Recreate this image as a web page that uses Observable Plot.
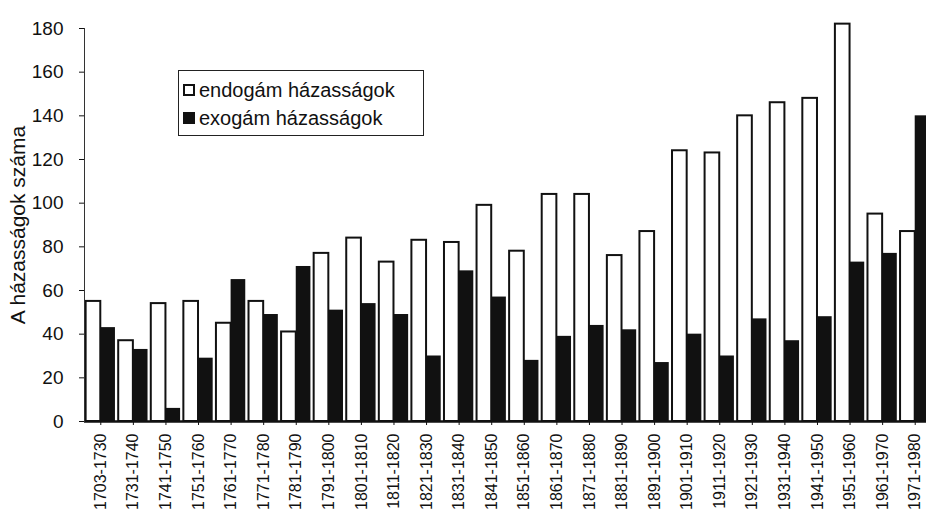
<!DOCTYPE html>
<html><head><meta charset="utf-8">
<script src="https://cdn.jsdelivr.net/npm/d3@7"></script>
<script src="https://cdn.jsdelivr.net/npm/@observablehq/plot@0.6"></script>
<style>
html,body{margin:0;padding:0;background:#fff;overflow:hidden;width:926px;height:517px}
#wrap{position:relative;width:940px;height:517px}
#legend{position:absolute;left:178px;top:70px;width:246px;height:66px;border:1.3px solid #222;background:#fff;font-family:"Liberation Sans",Arial,sans-serif;font-size:20px;color:#111;box-sizing:border-box;padding-top:5px}
.row{display:flex;align-items:center;height:28px;padding-left:4px}
.sw{width:12px;height:12px;margin-right:4px;box-sizing:border-box;border:2px solid #111}
</style></head><body>
<div id="wrap"><div id="chart"></div>
<div id="legend">
<div class="row"><span class="sw" style="background:#fff"></span><span id="l1"></span></div>
<div class="row"><span class="sw" style="background:#111"></span><span id="l2"></span></div>
</div></div>
<script>
const periods = ["1703-1730","1731-1740","1741-1750","1751-1760","1761-1770","1771-1780","1781-1790","1791-1800","1801-1810","1811-1820","1821-1830","1831-1840","1841-1850","1851-1860","1861-1870","1871-1880","1881-1890","1891-1900","1901-1910","1911-1920","1921-1930","1931-1940","1941-1950","1951-1960","1961-1970","1971-1980"];
const endogam = [55,37,54,55,45,55,41,77,84,73,83,82,99,78,104,104,76,87,124,123,140,146,148,182,95,87];
const exogam  = [43,33,6,29,65,49,71,51,54,49,30,69,57,28,39,44,42,27,40,30,47,37,48,73,77,140];
const seriesNames = ["endogám házasságok","exogám házasságok"];
const yTicks = [0,20,40,60,80,100,120,140,160,180];
const yLabel = "A házasságok száma";

document.getElementById("l1").textContent = seriesNames[0];
document.getElementById("l2").textContent = seriesNames[1];

const data = periods.map((p,i)=>({period:p, endo:endogam[i], exo:exogam[i]}));
const W=940, ML=84, MR=9, PI=0.1, PO=0.05;
const step=(W-ML-MR)/(periods.length-PI+2*PO);
const half=step*(1-PI)/2;
const chart = Plot.plot({
  width:W, height:517, marginLeft:ML, marginRight:MR, marginTop:28, marginBottom:96,
  style:{fontFamily:"Liberation Sans, Arial, sans-serif", background:"white", color:"#111"},
  x:{domain:periods, paddingInner:PI, paddingOuter:PO, round:false, label:null},
  y:{domain:[0,180], label:null},
  marks:[
    Plot.barY(data,{x:"period", y:"endo", insetRight:half, fill:"white", stroke:"#111", strokeWidth:2}),
    Plot.barY(data,{x:"period", y:"exo", insetLeft:half, fill:"#111"}),
    Plot.axisY({ticks:yTicks, tickSize:5, tickPadding:16, fontSize:19, label:yLabel, labelAnchor:"center", labelOffset:74, labelArrow:false}),
    Plot.axisX({tickRotate:-90, tickSize:4, tickPadding:8, fontSize:16, label:null}),
    Plot.ruleY([0],{strokeWidth:2.5, stroke:"#111"}),
    Plot.frame({anchor:"left", stroke:"#333"})
  ]
});
document.getElementById("chart").appendChild(chart);
d3.select(chart).selectAll("g[aria-label='y-axis label'] text").style("font-size","21px");
</script>
</body></html>
